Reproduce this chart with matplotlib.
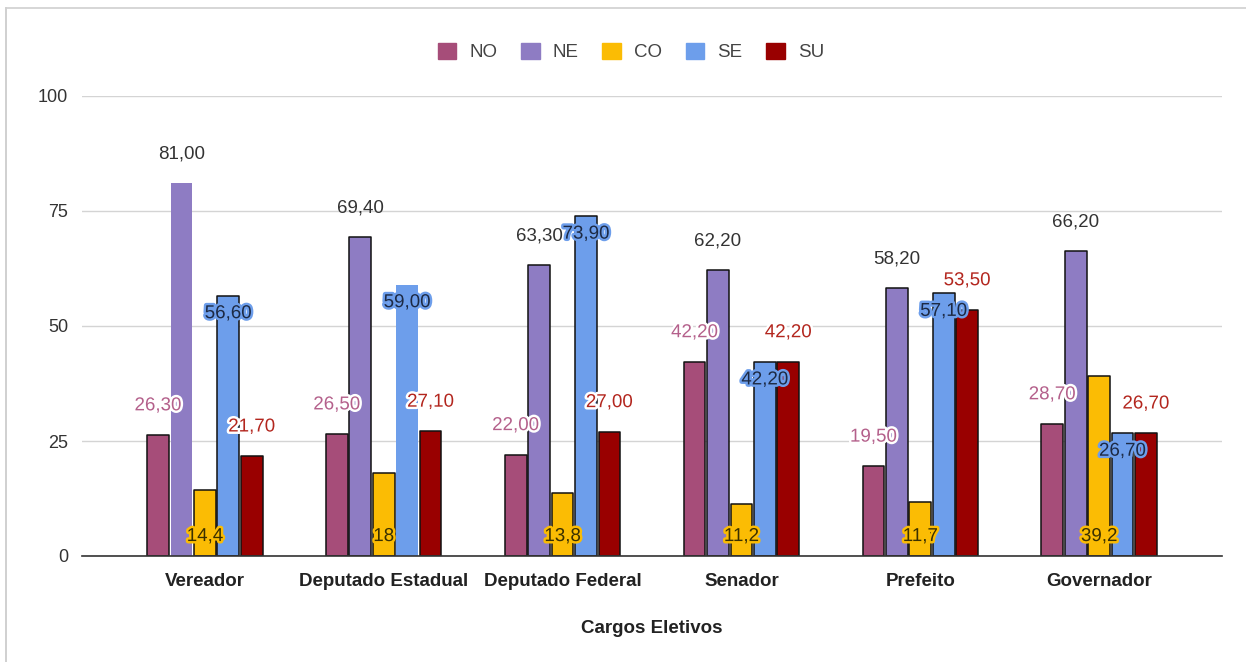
import matplotlib
matplotlib.use("Agg")
import matplotlib.pyplot as plt
import matplotlib.patheffects as pe
from matplotlib.patches import Patch
from matplotlib.lines import Line2D
import numpy as np

# ---- data ----
categories = ["Vereador", "Deputado Estadual", "Deputado Federal",
              "Senador", "Prefeito", "Governador"]
regions = ["NO", "NE", "CO", "SE", "SU"]
no_vals = [26.3, 26.5, 22.0, 42.2, 19.5, 28.7]
ne_vals = [81.0, 69.4, 63.3, 62.2, 58.2, 66.2]
co_vals = [14.4, 18.0, 13.8, 11.2, 11.7, 39.2]
se_vals = [56.6, 59.0, 73.9, 42.2, 57.1, 26.7]
su_vals = [21.7, 27.1, 27.0, 42.2, 53.5, 26.7]
y_ticks = [0, 25, 50, 75, 100]

series = [no_vals, ne_vals, co_vals, se_vals, su_vals]
fmt_two = lambda v: f"{v:.2f}".replace(".", ",")
fmt_co = lambda v: (f"{v:g}").replace(".", ",")

# ---- style ----
bar_colors = ["#a64d79", "#8e7cc3", "#fbbc04", "#6d9eeb", "#990000"]
label_colors = ["#b4608b", "#333333", "#3a3000", "#1d2a44", "#b3261e"]
halo_colors = ["white", None, "#fbbc04", "#6d9eeb", "white"]
# bars drawn without an outline (category index, series index)
no_edge = {(0, 1), (1, 3)}

plt.rcParams["font.family"] = ["Liberation Sans", "DejaVu Sans"]

fig = plt.figure(figsize=(12.46, 6.62), dpi=100)
W, H = 1246, 662
ax = fig.add_axes([82 / W, 1 - 556 / H, (1222 - 82) / W, (556 - 96) / H])

x = np.arange(len(categories))
bw = 0.131
offsets = (np.arange(len(regions)) - 2) * bw

for si, (vals, name) in enumerate(zip(series, regions)):
    for ci, v in enumerate(vals):
        has_edge = (ci, si) not in no_edge
        ax.bar(x[ci] + offsets[si], v, width=bw * 0.93,
               color=bar_colors[si],
               edgecolor="#111111" if has_edge else bar_colors[si],
               linewidth=1.1 if has_edge else 0,
               joinstyle="round", zorder=3)

        if si == 2:
            txt = fmt_co(v)
            y0, dy = 0, 14
        elif si == 3:
            txt = fmt_two(v)
            y0, dy = v, -13
        else:
            txt = fmt_two(v)
            y0, dy = v, 21
        effects = []
        if halo_colors[si] is not None:
            effects = [pe.withStroke(linewidth=3.5, foreground=halo_colors[si])]
        ax.annotate(txt, (x[ci] + offsets[si], y0), xytext=(0, dy),
                    textcoords="offset points", ha="center", va="center",
                    fontsize=13.5, color=label_colors[si],
                    path_effects=effects, zorder=5)

ax.set_ylim(0, 100)
ax.set_xlim(-0.5 - 0.187, len(categories) - 0.5 + 0.187)
ax.set_yticks(y_ticks)
ax.set_yticklabels([str(t) for t in y_ticks], fontsize=13, color="#333333")
ax.set_xticks(x)
ax.set_xticklabels(categories, fontsize=13.5, fontweight="bold", color="#222222")
ax.tick_params(axis="both", length=0, pad=10)
ax.tick_params(axis="x", pad=12)
ax.grid(axis="y", color="#d4d4d4", linewidth=1.0, zorder=0)
ax.set_axisbelow(True)
for s in ["top", "right", "left"]:
    ax.spines[s].set_visible(False)
ax.spines["bottom"].set_color("#333333")
ax.spines["bottom"].set_linewidth(1.2)
ax.spines["bottom"].set_zorder(4)

ax.set_xlabel("Cargos Eletivos", fontsize=13.5, fontweight="bold",
              color="#222222", labelpad=22)

handles = [Patch(facecolor=c, edgecolor=c, label=r) for c, r in zip(bar_colors, regions)]
fig.legend(handles=handles, loc="center", bbox_to_anchor=(631 / W, 1 - 52 / H),
           ncol=5, frameon=False, fontsize=13.5, handlelength=1.0,
           handleheight=1.0, handletextpad=0.7, columnspacing=1.25,
           labelcolor="#444444")

# outer frame
fig.add_artist(Line2D([6 / W, 6 / W], [0, 1 - 8 / H], color="#c8c8c8", linewidth=1.2,
                      transform=fig.transFigure))
fig.add_artist(Line2D([6 / W, 1], [1 - 8 / H, 1 - 8 / H], color="#d0d0d0", linewidth=1.2,
                      transform=fig.transFigure))

fig.savefig("out.png", dpi=100)
